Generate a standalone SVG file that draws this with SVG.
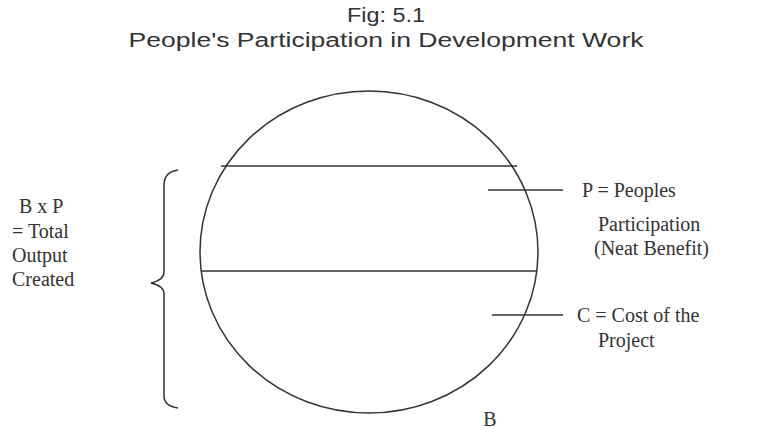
<svg xmlns="http://www.w3.org/2000/svg" width="774" height="435" viewBox="0 0 774 435">
<style>
.t{font-family:"Liberation Sans",Arial,sans-serif;font-size:20px;fill:#333;}
.s{font-family:"Liberation Serif","Times New Roman",serif;font-size:20px;fill:#333;}
.ln{stroke:#333;stroke-width:1.5;fill:none;}
</style>
<rect width="774" height="435" fill="#fff"/>
<g id="title">
<text class="t" x="386" y="22" text-anchor="middle" textLength="78" lengthAdjust="spacingAndGlyphs">Fig: 5.1</text>
<text class="t" x="386" y="47" text-anchor="middle" textLength="515" lengthAdjust="spacingAndGlyphs">People's Participation in Development Work</text>
</g>
<g id="circle">
<ellipse class="ln" cx="369" cy="252" rx="169" ry="161"/>
<line class="ln" x1="221" y1="166" x2="517" y2="166"/>
<line class="ln" x1="201" y1="271" x2="537" y2="271"/>
<text class="s" x="490" y="426" text-anchor="middle">B</text>
</g>
<g id="connectors">
<line class="ln" x1="488" y1="190" x2="563" y2="190"/>
<line class="ln" x1="492" y1="315" x2="563" y2="315"/>
<path class="ln" d="M178,170 Q164,172 164,185 L164,272 Q164,280 151,283 Q164,286 164,294 L164,396 Q164,406 178,408"/>
</g>
<g id="labelP">
<text class="s" x="582" y="197">P = Peoples</text>
<text class="s" x="598" y="231">Participation</text>
<text class="s" x="594" y="255">(Neat Benefit)</text>
</g>
<g id="labelC">
<text class="s" x="577" y="322">C = Cost of the</text>
<text class="s" x="598" y="347">Project</text>
</g>
<g id="labelB">
<text class="s" x="19" y="213">B x P</text>
<text class="s" x="12" y="238">= Total</text>
<text class="s" x="12" y="262">Output</text>
<text class="s" x="12" y="286">Created</text>
</g>
</svg>
